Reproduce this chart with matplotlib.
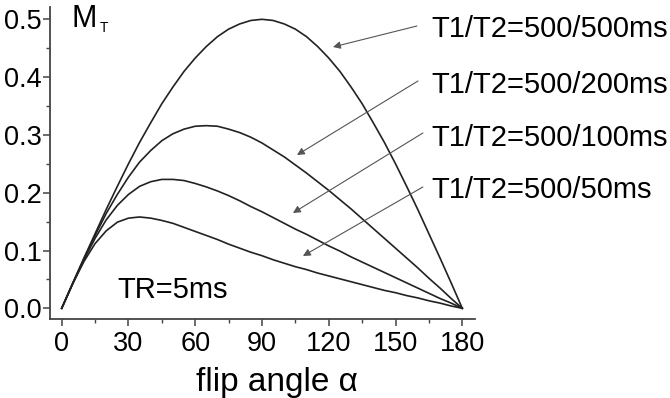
import numpy as np
import matplotlib
matplotlib.use("Agg")
import matplotlib.pyplot as plt
from matplotlib.ticker import MultipleLocator

plt.rcParams['font.family'] = ['Liberation Sans', 'DejaVu Sans']

# flip angle (deg) and transverse magnetisation
angle = np.arange(0, 181, 5)
mt_500 = [0, .044, .087, .129, .171, .211, .250, .287, .321, .354, .383, .410, .433,
          .453, .470, .483, .492, .498, .500, .498, .492, .483, .470, .453, .433, .410,
          .383, .354, .321, .287, .250, .211, .171, .129, .087, .044, 0]
mt_200 = [0, .043, .086, .126, .164, .197, .227, .253, .273, .290, .302, .310, .315,
          .316, .315, .310, .304, .296, .286, .274, .262, .248, .234, .219, .204, .188,
          .172, .155, .138, .121, .104, .087, .070, .052, .035, .017, 0]
mt_100 = [0, .043, .084, .121, .153, .178, .197, .211, .219, .223, .223, .221, .216,
          .210, .203, .195, .186, .176, .167, .157, .147, .137, .128, .118, .108, .099,
          .089, .080, .071, .062, .053, .044, .035, .026, .017, .009, 0]
mt_50 = [0, .043, .081, .112, .134, .149, .156, .158, .156, .152, .147, .140, .133,
         .126, .119, .111, .104, .097, .091, .084, .078, .072, .067, .061, .056, .051,
         .046, .041, .036, .031, .027, .022, .018, .013, .009, .004, 0]

labels = ['T1/T2=500/500ms', 'T1/T2=500/200ms', 'T1/T2=500/100ms', 'T1/T2=500/50ms']
label_y = [0.4694, 0.3725, 0.2808, 0.1908]
arrow_tail = [(159.6, 0.4884), (160.1, 0.3933), (162.3, 0.3033), (162.3, 0.2099)]
arrow_head = [(121.9, 0.4521), (105.7, 0.2652), (103.9, 0.1649), (108.4, 0.0905)]

fig = plt.figure(figsize=(6.7, 3.98), dpi=100)
ax = fig.add_axes([0.0746, 0.1985, 0.6343, 0.7832])

for mt in [mt_500, mt_200, mt_100, mt_50]:
    ax.plot(angle, mt, color='#222222', lw=1.2)

ax.set_xlim(-5.26, 185.7)
ax.set_ylim(-0.0185, 0.5208)

ax.xaxis.set_major_locator(MultipleLocator(30))
ax.xaxis.set_minor_locator(MultipleLocator(15))
ax.yaxis.set_major_locator(MultipleLocator(0.1))
ax.yaxis.set_minor_locator(MultipleLocator(0.05))
ax.yaxis.set_major_formatter(matplotlib.ticker.FormatStrFormatter('%.1f'))

for side in ['top', 'right']:
    ax.spines[side].set_visible(False)
for side in ['left', 'bottom']:
    ax.spines[side].set_linewidth(1.3)
    ax.spines[side].set_color('#444444')

ax.tick_params(which='major', direction='out', length=5, width=1.1,
               color='#444444', labelsize=19.5, pad=1)
ax.tick_params(which='minor', direction='out', length=3, width=1.0, color='#444444')
ax.tick_params(axis='x', which='major', pad=4)

for lab, ly, tail, head in zip(labels, label_y, arrow_tail, arrow_head):
    ax.text(165.9, ly, lab, fontsize=21, ha='left', va='baseline', clip_on=False)
    ax.annotate('', xy=head, xytext=tail, annotation_clip=False,
                arrowprops=dict(arrowstyle='-|>', color='#555555', lw=0.8,
                                mutation_scale=11, shrinkA=0, shrinkB=0))

ax.text(24.9, 0.0178, 'TR=5ms', fontsize=21, ha='left', va='baseline')
ax.text(4.4, 0.4867, 'M', fontsize=22, ha='left', va='baseline')
ax.text(17.2, 0.478, 'T', fontsize=10, ha='left', va='baseline')

fig.text(0.4127, 0.0176, 'flip angle α', fontsize=24, ha='center', va='baseline')

fig.savefig('out.png', dpi=100)
